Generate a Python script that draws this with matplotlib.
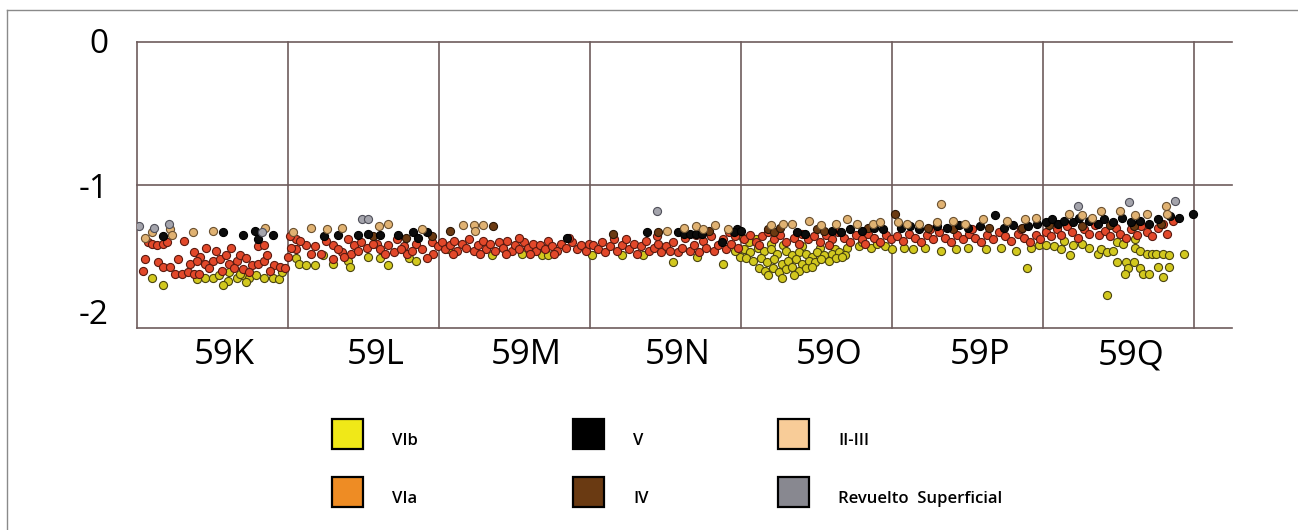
import matplotlib.pyplot as plt
from matplotlib.patches import Rectangle
from matplotlib.lines import Line2D

plt.rcParams['font.family'] = ['Open Sans', 'DejaVu Sans']

# squares along the section and depth ticks
squares = ["59K", "59L", "59M", "59N", "59O", "59P", "59Q"]
depth_ticks = [0, -1, -2]

# VIb (yellow)
vib_x = [0.10, 0.17, 0.45, 0.50, 0.54, 0.60, 0.57, 0.66, 0.70, 0.74, 0.79, 0.84, 0.90, 0.94, 0.61, 0.68, 0.72, 0.40,
         1.05, 1.07, 1.12, 1.18, 1.23, 1.30, 1.40, 1.41, 1.53, 1.61, 1.66, 1.80, 1.85, 0.96,
         2.06, 2.35, 2.55, 2.68, 2.72, 3.01,
         3.21, 3.35, 3.55, 3.71, 3.88, 3.99, 3.96,
         4.01, 4.05, 4.10, 4.20, 4.28, 4.40, 4.52, 4.62, 4.70, 4.78, 4.86, 4.95,
         4.02, 4.06, 4.11, 4.15, 4.20, 4.24, 4.30, 4.34, 4.38, 4.43, 4.47, 4.50, 4.55, 4.60, 4.65, 4.69,
         4.03, 4.08, 4.13, 4.17, 4.22, 4.27, 4.31, 4.36, 4.40, 4.45, 4.49, 4.53, 4.58, 4.63, 4.67,
         4.12, 4.16, 4.21, 4.25, 4.30, 4.34, 4.38, 4.43, 4.47, 4.18, 4.35, 4.27,
         4.80, 4.90, 5.00,
         5.08, 5.14, 5.22, 5.32, 5.42, 5.50, 5.62, 5.72, 5.82, 5.92, 5.89, 5.97,
         6.02, 6.07, 6.12, 6.18, 6.20, 6.26, 6.36, 6.38, 6.42, 6.46, 6.49, 6.53, 6.49, 6.55, 6.60, 6.56, 6.54,
         6.64, 6.66, 6.70, 6.61, 6.64, 6.69, 6.72, 6.75, 6.79, 6.83, 6.76, 6.83, 6.79, 6.93, 6.42, 6.61, 6.30, 6.14]
vib_z = [-1.65, -1.70, -1.65, -1.65, -1.63, -1.67, -1.70, -1.65, -1.63, -1.65, -1.63, -1.65, -1.65, -1.66, -1.61, -1.62, -1.68, -1.66,
         -1.51, -1.55, -1.56, -1.56, -1.49, -1.55, -1.53, -1.57, -1.50, -1.51, -1.56, -1.51, -1.53, -1.61,
         -1.45, -1.49, -1.48, -1.49, -1.49, -1.49,
         -1.49, -1.49, -1.54, -1.50, -1.55, -1.50, -1.46,
         -1.37, -1.40, -1.38, -1.41, -1.42, -1.43, -1.44, -1.45, -1.44, -1.43, -1.44, -1.43,
         -1.45, -1.47, -1.44, -1.46, -1.45, -1.48, -1.46, -1.49, -1.47, -1.48, -1.50, -1.47, -1.49, -1.48, -1.47, -1.49,
         -1.51, -1.53, -1.51, -1.54, -1.52, -1.55, -1.53, -1.52, -1.55, -1.53, -1.54, -1.52, -1.53, -1.51, -1.50,
         -1.58, -1.60, -1.58, -1.61, -1.59, -1.57, -1.60, -1.58, -1.57, -1.63, -1.63, -1.65,
         -1.40, -1.41, -1.45,
         -1.44, -1.45, -1.44, -1.46, -1.45, -1.44, -1.45, -1.44, -1.46, -1.44, -1.58, -1.42,
         -1.42, -1.43, -1.45, -1.49, -1.42, -1.41, -1.48, -1.45, -1.47, -1.46, -1.40, -1.41, -1.54, -1.54, -1.54, -1.58, -1.62,
         -1.58, -1.62, -1.62, -1.44, -1.46, -1.48, -1.48, -1.48, -1.48, -1.49, -1.57, -1.57, -1.64, -1.48, -1.77, -1.38, -1.44, -1.39]

# VIa (red-orange)
via_x = [0.07, 0.10, 0.13, 0.17, 0.20, 0.05, 0.04, 0.14, 0.17, 0.25, 0.30, 0.34, 0.38, 0.41, 0.31, 0.38, 0.42, 0.35, 0.40,
         0.45, 0.50, 0.55, 0.59, 0.61, 0.66, 0.68, 0.72, 0.76, 0.80, 0.84, 0.86, 0.91, 0.95, 0.98, 0.80, 0.84, 0.27, 0.22,
         0.48, 0.56, 0.64, 0.70, 0.74, 0.88, 0.52, 0.62, 0.46,
         1.05, 1.12, 1.18, 1.05, 1.15, 1.22, 1.30, 1.36, 1.40, 1.44, 1.48, 1.42, 1.52, 1.59, 1.61, 1.66, 1.70, 1.72, 1.77,
         1.79, 1.85, 1.89, 1.95, 1.96, 1.30, 1.37, 1.92, 1.01, 1.02, 1.00, 1.08, 1.25, 1.33, 1.46, 1.56, 1.64, 1.75, 1.82, 1.99,
         2.02, 2.04, 2.07, 2.10, 2.12, 2.15, 2.18, 2.20, 2.23, 2.26, 2.29, 2.31, 2.34, 2.37, 2.40, 2.42, 2.45, 2.48, 2.50,
         2.53, 2.56, 2.59, 2.62, 2.64, 2.67, 2.70, 2.72, 2.75, 2.78, 2.81, 2.84, 2.88, 2.91, 2.94, 2.97, 2.99, 2.27, 2.44,
         2.60, 2.76, 2.09, 2.53, 2.86,
         3.02, 3.05, 3.08, 3.10, 3.13, 3.16, 3.18, 3.21, 3.24, 3.26, 3.29, 3.31, 3.34, 3.37, 3.39, 3.42, 3.45, 3.47, 3.50,
         3.53, 3.55, 3.58, 3.61, 3.63, 3.66, 3.69, 3.72, 3.75, 3.77, 3.80, 3.82, 3.85, 3.88, 3.90, 3.93, 3.96, 3.98, 3.44,
         3.70, 3.92,
         4.02, 4.06, 4.10, 4.14, 4.18, 4.22, 4.26, 4.30, 4.35, 4.40, 4.44, 4.48, 4.52, 4.56, 4.60, 4.64, 4.68, 4.72, 4.76,
         4.80, 4.84, 4.88, 4.92, 4.96, 4.99, 4.12, 4.38, 4.58, 4.82,
         5.03, 5.07, 5.11, 5.15, 5.19, 5.23, 5.27, 5.31, 5.35, 5.39, 5.43, 5.47, 5.51, 5.55, 5.59, 5.63, 5.67, 5.71, 5.75,
         5.79, 5.83, 5.87, 5.91, 5.95, 5.98, 5.25, 5.53, 5.85,
         6.02, 6.05, 6.09, 6.12, 6.16, 6.19, 6.23, 6.27, 6.30, 6.34, 6.37, 6.41, 6.44, 6.48, 6.51, 6.55, 6.58, 6.62, 6.65,
         6.69, 6.72, 6.76, 6.79, 6.82, 6.86]
via_z = [-1.40, -1.41, -1.42, -1.41, -1.40, -1.52, -1.60, -1.54, -1.57, -1.62, -1.62, -1.61, -1.62, -1.62, -1.39, -1.47, -1.50, -1.55, -1.53,
         -1.55, -1.53, -1.52, -1.49, -1.55, -1.53, -1.49, -1.51, -1.56, -1.55, -1.53, -1.49, -1.56, -1.57, -1.58, -1.43, -1.42, -1.52, -1.57,
         -1.58, -1.60, -1.58, -1.59, -1.61, -1.60, -1.46, -1.44, -1.44,
         -1.38, -1.42, -1.43, -1.45, -1.48, -1.48, -1.42, -1.47, -1.38, -1.42, -1.40, -1.48, -1.44, -1.41, -1.45, -1.42, -1.47, -1.38, -1.43,
         -1.48, -1.41, -1.45, -1.40, -1.48, -1.52, -1.50, -1.51, -1.36, -1.44, -1.50, -1.39, -1.39, -1.45, -1.46, -1.41, -1.48, -1.45, -1.46, -1.43,
         -1.40, -1.45, -1.42, -1.39, -1.46, -1.41, -1.44, -1.38, -1.46, -1.42, -1.39, -1.45, -1.41, -1.46, -1.40, -1.44, -1.39, -1.46, -1.42,
         -1.45, -1.40, -1.44, -1.41, -1.46, -1.42, -1.45, -1.39, -1.43, -1.46, -1.41, -1.44, -1.40, -1.45, -1.42, -1.46, -1.41, -1.48, -1.48,
         -1.48, -1.48, -1.48, -1.37, -1.37,
         -1.42, -1.45, -1.40, -1.47, -1.43, -1.38, -1.46, -1.42, -1.38, -1.45, -1.41, -1.48, -1.43, -1.39, -1.46, -1.44, -1.41, -1.47, -1.43,
         -1.46, -1.40, -1.47, -1.44, -1.37, -1.46, -1.42, -1.47, -1.39, -1.44, -1.36, -1.46, -1.42, -1.38, -1.45, -1.41, -1.36, -1.44, -1.36,
         -1.35, -1.33,
         -1.38, -1.35, -1.40, -1.36, -1.33, -1.38, -1.35, -1.40, -1.37, -1.34, -1.38, -1.36, -1.40, -1.35, -1.38, -1.33, -1.37, -1.40, -1.35,
         -1.38, -1.34, -1.37, -1.40, -1.35, -1.38, -1.42, -1.41, -1.42, -1.41,
         -1.36, -1.39, -1.34, -1.37, -1.40, -1.35, -1.38, -1.33, -1.37, -1.40, -1.35, -1.38, -1.34, -1.37, -1.40, -1.35, -1.38, -1.33, -1.36,
         -1.39, -1.34, -1.37, -1.40, -1.35, -1.38, -1.31, -1.31, -1.31,
         -1.33, -1.36, -1.31, -1.35, -1.29, -1.33, -1.37, -1.31, -1.34, -1.28, -1.35, -1.32, -1.36, -1.30, -1.34, -1.37, -1.31, -1.35, -1.29,
         -1.33, -1.36, -1.30, -1.27, -1.34, -1.25]

# V (black)
v_x = [0.17, 0.57, 0.70, 0.80, 0.90, 0.78,
       1.24, 1.33, 1.46, 1.53, 1.61, 1.73, 1.83, 1.86, 1.92,
       2.85,
       3.38, 3.58, 3.62, 3.66, 3.70, 3.74, 3.87, 3.97, 3.95,
       4.00, 4.37, 4.42, 4.60, 4.66, 4.72, 4.80, 4.88, 4.94,
       5.06, 5.12, 5.18, 5.30, 5.36, 5.44, 5.50, 5.58, 5.68, 5.74, 5.80, 5.90, 5.96,
       6.02, 6.06, 6.10, 6.14, 6.20, 6.24, 6.30, 6.36, 6.40, 6.46, 6.52, 6.58, 6.64, 6.70, 6.76, 6.84, 6.90, 6.99]
v_z = [-1.36, -1.33, -1.35, -1.38, -1.35, -1.32,
       -1.36, -1.35, -1.35, -1.34, -1.35, -1.35, -1.33, -1.37, -1.33,
       -1.37,
       -1.33, -1.33, -1.34, -1.34, -1.34, -1.34, -1.40, -1.31, -1.33,
       -1.32, -1.33, -1.34, -1.32, -1.33, -1.31, -1.32, -1.30, -1.31,
       -1.30, -1.29, -1.31, -1.29, -1.30, -1.28, -1.30, -1.29, -1.21, -1.30, -1.28, -1.29, -1.27,
       -1.26, -1.24, -1.27, -1.25, -1.26, -1.23, -1.25, -1.27, -1.24, -1.26, -1.23, -1.26, -1.25, -1.27, -1.24, -1.22, -1.23, -1.20]

# IV (brown)
iv_x = [1.56, 1.78, 1.95, 2.07, 2.36, 3.15, 3.45, 3.79,
        4.18, 4.22, 4.26, 4.50, 4.55, 5.02, 4.84,
        5.24, 5.40, 5.64, 5.86, 6.04, 6.26, 6.44, 6.60, 6.78]
iv_z = [-1.36, -1.37, -1.36, -1.32, -1.29, -1.34, -1.33, -1.32,
        -1.31, -1.33, -1.30, -1.31, -1.32, -1.20, -1.30,
        -1.30, -1.31, -1.30, -1.30, -1.28, -1.29, -1.28, -1.29, -1.27]

# II-III (tan)
ii_x = [0.10, 0.22, 0.23, 0.37, 0.50, 0.85, 0.05,
        1.03, 1.15, 1.26, 1.36, 1.60, 1.66, 1.89,
        2.16, 2.23, 2.29, 2.24,
        3.51, 3.62, 3.70, 3.75, 3.83, 3.91,
        4.20, 4.28, 4.45, 4.53, 4.63, 4.70, 4.77, 4.87, 4.92, 4.34,
        5.04, 5.10, 5.18, 5.30, 5.40, 5.48, 5.32, 5.60, 5.76, 5.88, 5.95,
        6.17, 6.26, 6.32, 6.38, 6.51, 6.61, 6.69, 6.81, 6.82]
ii_z = [-1.33, -1.31, -1.35, -1.33, -1.32, -1.30, -1.37,
        -1.33, -1.30, -1.31, -1.30, -1.29, -1.27, -1.31,
        -1.28, -1.28, -1.28, -1.32,
        -1.32, -1.30, -1.29, -1.31, -1.28, -1.31,
        -1.28, -1.27, -1.25, -1.28, -1.27, -1.24, -1.27, -1.27, -1.26, -1.27,
        -1.26, -1.27, -1.27, -1.26, -1.25, -1.27, -1.13, -1.24, -1.25, -1.24, -1.23,
        -1.20, -1.21, -1.23, -1.18, -1.18, -1.21, -1.20, -1.15, -1.20]

# Revuelto superficial (grey)
rev_x = [0.01, 0.11, 0.21, 0.83, 1.49, 1.53, 3.44, 6.23, 6.57, 6.87]
rev_z = [-1.29, -1.30, -1.27, -1.33, -1.24, -1.24, -1.18, -1.15, -1.12, -1.11]

W, H = 1298, 530
fig = plt.figure(figsize=(W / 100, H / 100), dpi=100)
ax = fig.add_axes([137 / W, 1 - 328 / H, (1232 - 137) / W, (328 - 42) / H])
ax.set_xlim(0, 7.25)
ax.set_ylim(-2, 0)
ax.axis('off')

line_col = '#6e5c5c'
for d in depth_ticks:
    ax.axhline(d, color=line_col, lw=1.2, clip_on=False)
for i in range(len(squares) + 1):
    ax.axvline(i, color=line_col, lw=1.2, clip_on=False)

layers = [
    (vib_x, vib_z, '#d2c81e', '#4a4410'),
    (via_x, via_z, '#e2482a', '#5a1a10'),
    (iv_x, iv_z, '#6b3a12', '#2a1606'),
    (v_x, v_z, '#0c0c0c', '#000000'),
    (ii_x, ii_z, '#e0b272', '#6a5030'),
    (rev_x, rev_z, '#a4a4ac', '#50505a'),
]
for xs, zs, fc, ec in layers:
    ax.scatter(xs, zs, s=34, c=fc, edgecolors=ec, linewidths=0.8, zorder=3)

# depth labels
label_y = {0: -0.02, -1: -1.03, -2: -1.91}
for d in depth_ticks:
    ax.text(-0.19, label_y[d], str(d), ha='right', va='center', fontsize=24, clip_on=False)

# square labels
for i, name in enumerate(squares):
    ax.text(i + 0.58, -2.19, name, ha='center', va='center', fontsize=25, clip_on=False)

# legend drawn in pixel positions
legend = [
    ('VIb', '#f0e818', 332, 419),
    ('VIa', '#ee8c24', 332, 477),
    ('V', '#000000', 573, 419),
    ('IV', '#6a3a12', 573, 477),
    ('II-III', '#f8cc98', 778, 419),
    ('Revuelto  Superficial', '#888890', 778, 477),
]
for name, col, px, py in legend:
    fig.add_artist(Rectangle((px / W, 1 - (py + 30) / H), 31 / W, 30 / H,
                             facecolor=col, edgecolor='black', lw=1.6, transform=fig.transFigure))
    fig.text((px + 60) / W, 1 - (py + 22) / H, name, ha='left', va='center',
             fontsize=12, fontweight='semibold')

# outer frame
fig.add_artist(Line2D([7 / W, 7 / W], [0, 1 - 10 / H], color='#8a8a8a', lw=1.0))
fig.add_artist(Line2D([7 / W, 1], [1 - 10 / H, 1 - 10 / H], color='#8a8a8a', lw=1.0))

fig.savefig('out.png', dpi=100, facecolor='white')
